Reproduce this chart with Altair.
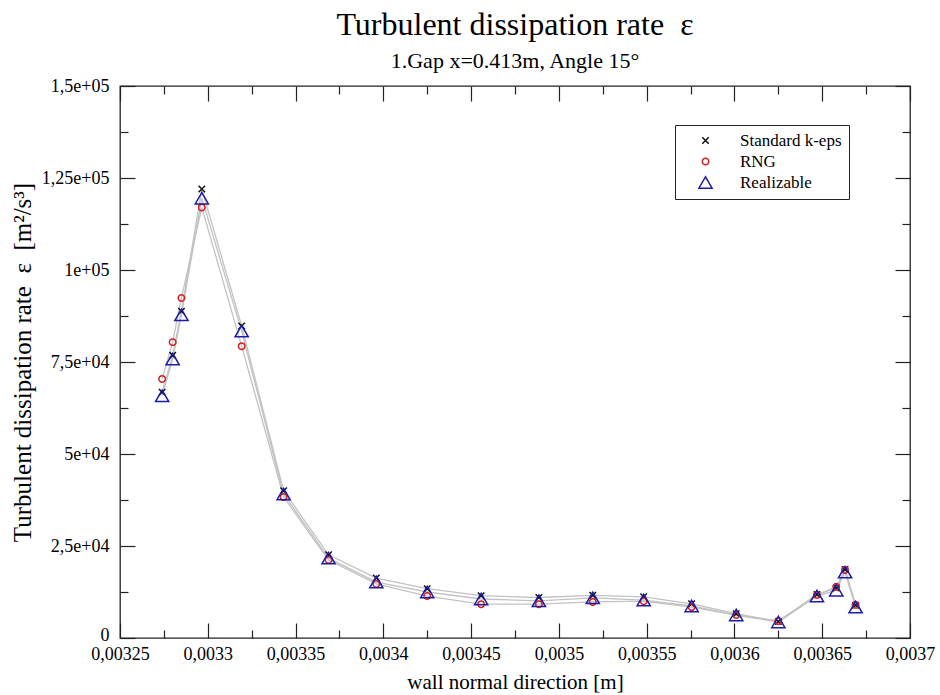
import altair as alt
import pandas as pd

FONT = "Liberation Serif"

series_names = ["Standard k-eps", "RNG", "Realizable"]
wall_x = [0.003274, 0.00328, 0.003285, 0.0032966, 0.0033193, 0.0033432, 0.0033688,
          0.003396, 0.003425, 0.0034557, 0.0034886, 0.0035193, 0.0035483, 0.0035756,
          0.003601, 0.003625, 0.003647, 0.003658, 0.003663, 0.003669]
k_eps = [66800, 76800, 88800, 122000, 84800, 40000, 22600, 16300, 13400, 11500,
         11000, 11600, 11200, 9300, 6600, 4500, 11800, 13600, 18600, 8900]
rng = [70400, 80400, 92400, 117000, 79300, 38300, 21200, 14700, 11400, 9200,
       9200, 9800, 10000, 8400, 6250, 4600, 11700, 13900, 18500, 9000]
realizable = [65800, 75800, 87800, 119500, 83400, 39100, 21700, 15200, 12500, 10600,
              10100, 10900, 10300, 8700, 6250, 4350, 11400, 13000, 17900, 8400]

x_major = [0.00325, 0.0033, 0.00335, 0.0034, 0.00345, 0.0035, 0.00355, 0.0036, 0.00365, 0.0037]
x_major_labels = ["0,00325", "0,0033", "0,00335", "0,0034", "0,00345", "0,0035",
                  "0,00355", "0,0036", "0,00365", "0,0037"]
x_minor = [0.003275, 0.003325, 0.003375, 0.003425, 0.003475, 0.003525, 0.003575,
           0.003625, 0.003675]
y_major = [0, 25000, 50000, 75000, 100000, 125000, 150000]
y_major_labels = ["0", "2,5e+04", "5e+04", "7,5e+04", "1e+05", "1,25e+05", "1,5e+05"]
y_minor = [12500, 37500, 62500, 87500, 112500, 137500]

colors = ["#111111", "#d42020", "#1c1ca8"]
marker_sizes = [42, 42, 175]
PATH_X = "M-1,-1L1,1M-1,1L1,-1"
shapes = [PATH_X, "circle", "triangle-up"]

rows = []
for name, vals in zip(series_names, [k_eps, rng, realizable]):
    for xv, yv in zip(wall_x, vals):
        rows.append({"series": name, "x": xv, "y": yv})
df = pd.DataFrame(rows)


def label_expr(values, labels, tol):
    expr = "''"
    for v, l in reversed(list(zip(values, labels))):
        expr = f"abs(datum.value - ({v})) < {tol} ? '{l}' : ({expr})"
    return expr


x_scale = alt.Scale(domain=[0.00325, 0.0037], nice=False, zero=False)
y_scale = alt.Scale(domain=[0, 150000], nice=False, zero=False)

common = dict(grid=False, domain=False, tickColor="#222222", tickWidth=1.2,
              labelFlush=False, labelOverlap=False,
              labelFont=FONT, labelFontSize=18, labelColor="black",
              titleFont=FONT, titleFontWeight="normal", titleColor="black")

ax_bottom_major = alt.Axis(orient="bottom", values=x_major, tickSize=alt.ExprRef(expr="-15"),
                           labelExpr=label_expr(x_major, x_major_labels, 1e-8),
                           labelPadding=22, title="wall normal direction [m]",
                           titleFontSize=21, titlePadding=8, **common)
ax_bottom_minor = alt.Axis(orient="bottom", values=x_minor, tickSize=alt.ExprRef(expr="-8"),
                           labels=False, title="", **common)
ax_top_major = alt.Axis(orient="top", values=x_major, tickSize=alt.ExprRef(expr="-15"),
                        labels=False, title="", **common)
ax_top_minor = alt.Axis(orient="top", values=x_minor, tickSize=alt.ExprRef(expr="-8"),
                        labels=False, title="", **common)

ax_left_major = alt.Axis(orient="left", values=y_major, tickSize=alt.ExprRef(expr="-15"),
                         labelExpr=label_expr(y_major, y_major_labels, 1),
                         labelOffset={"condition": {"test": "datum.value == 0", "value": -3}, "value": 0},
                         labelPadding=26,
                         title="Turbulent dissipation rate\u00a0 \u03b5\u00a0 [m\u00b2/s\u00b3]",
                         titleFontSize=25, titlePadding=6, **common)
ax_left_minor = alt.Axis(orient="left", values=y_minor, tickSize=alt.ExprRef(expr="-8"),
                         labels=False, title="", **common)
ax_right_major = alt.Axis(orient="right", values=y_major, tickSize=alt.ExprRef(expr="-15"),
                          labels=False, title="", **common)
ax_right_minor = alt.Axis(orient="right", values=y_minor, tickSize=alt.ExprRef(expr="-8"),
                          labels=False, title="", **common)

legend = alt.Legend(
    title=None, orient="none", legendX=555, legendY=39,
    strokeColor="#222222", fillColor="white", padding=7,
    labelFont=FONT, labelFontSize=17, labelColor="black",
    rowPadding=3, symbolOffset=15, labelOffset=26, symbolStrokeWidth=1.5,
)

base = alt.Chart(df)

lines = base.mark_line(color="#c2c2c2", strokeWidth=1.3).encode(
    x=alt.X("x:Q", scale=x_scale, axis=ax_bottom_major),
    y=alt.Y("y:Q", scale=y_scale, axis=ax_left_major),
    detail="series:N",
)

points = base.mark_point(filled=False, strokeWidth=1.5, opacity=1).encode(
    x=alt.X("x:Q", scale=x_scale, axis=ax_bottom_minor),
    y=alt.Y("y:Q", scale=y_scale, axis=ax_left_minor),
    color=alt.Color("series:N", scale=alt.Scale(domain=series_names, range=colors), legend=legend),
    shape=alt.Shape("series:N", scale=alt.Scale(domain=series_names, range=shapes), legend=legend),
    size=alt.Size("series:N", scale=alt.Scale(type="ordinal", domain=series_names, range=marker_sizes),
                  legend=legend),
)

ghost_a = base.mark_point(opacity=0).encode(
    x=alt.X("x:Q", scale=x_scale, axis=ax_top_major),
    y=alt.Y("y:Q", scale=y_scale, axis=ax_right_major),
)
ghost_b = base.mark_point(opacity=0).encode(
    x=alt.X("x:Q", scale=x_scale, axis=ax_top_minor),
    y=alt.Y("y:Q", scale=y_scale, axis=ax_right_minor),
)

chart = alt.layer(lines, points, ghost_a, ghost_b).resolve_axis(
    x="independent", y="independent"
).properties(
    width=790, height=552,
    background="white",
    title=alt.TitleParams(
        text="Turbulent dissipation rate\u00a0 \u03b5",
        subtitle="1.Gap x=0.413m, Angle 15\u00b0",
        anchor="middle", font=FONT, fontSize=32, fontWeight="normal", color="black",
        subtitleFont=FONT, subtitleFontSize=22, subtitleColor="black",
        offset=4, subtitlePadding=9,
    ),
    autosize=alt.AutoSizeParams(type="none"),
    padding={"left": 120, "top": 86, "right": 30, "bottom": 57},
).configure_view(
    stroke="#222222", strokeWidth=1.3
)

chart.save("out.html", embed_options={"renderer": "svg", "actions": False})
